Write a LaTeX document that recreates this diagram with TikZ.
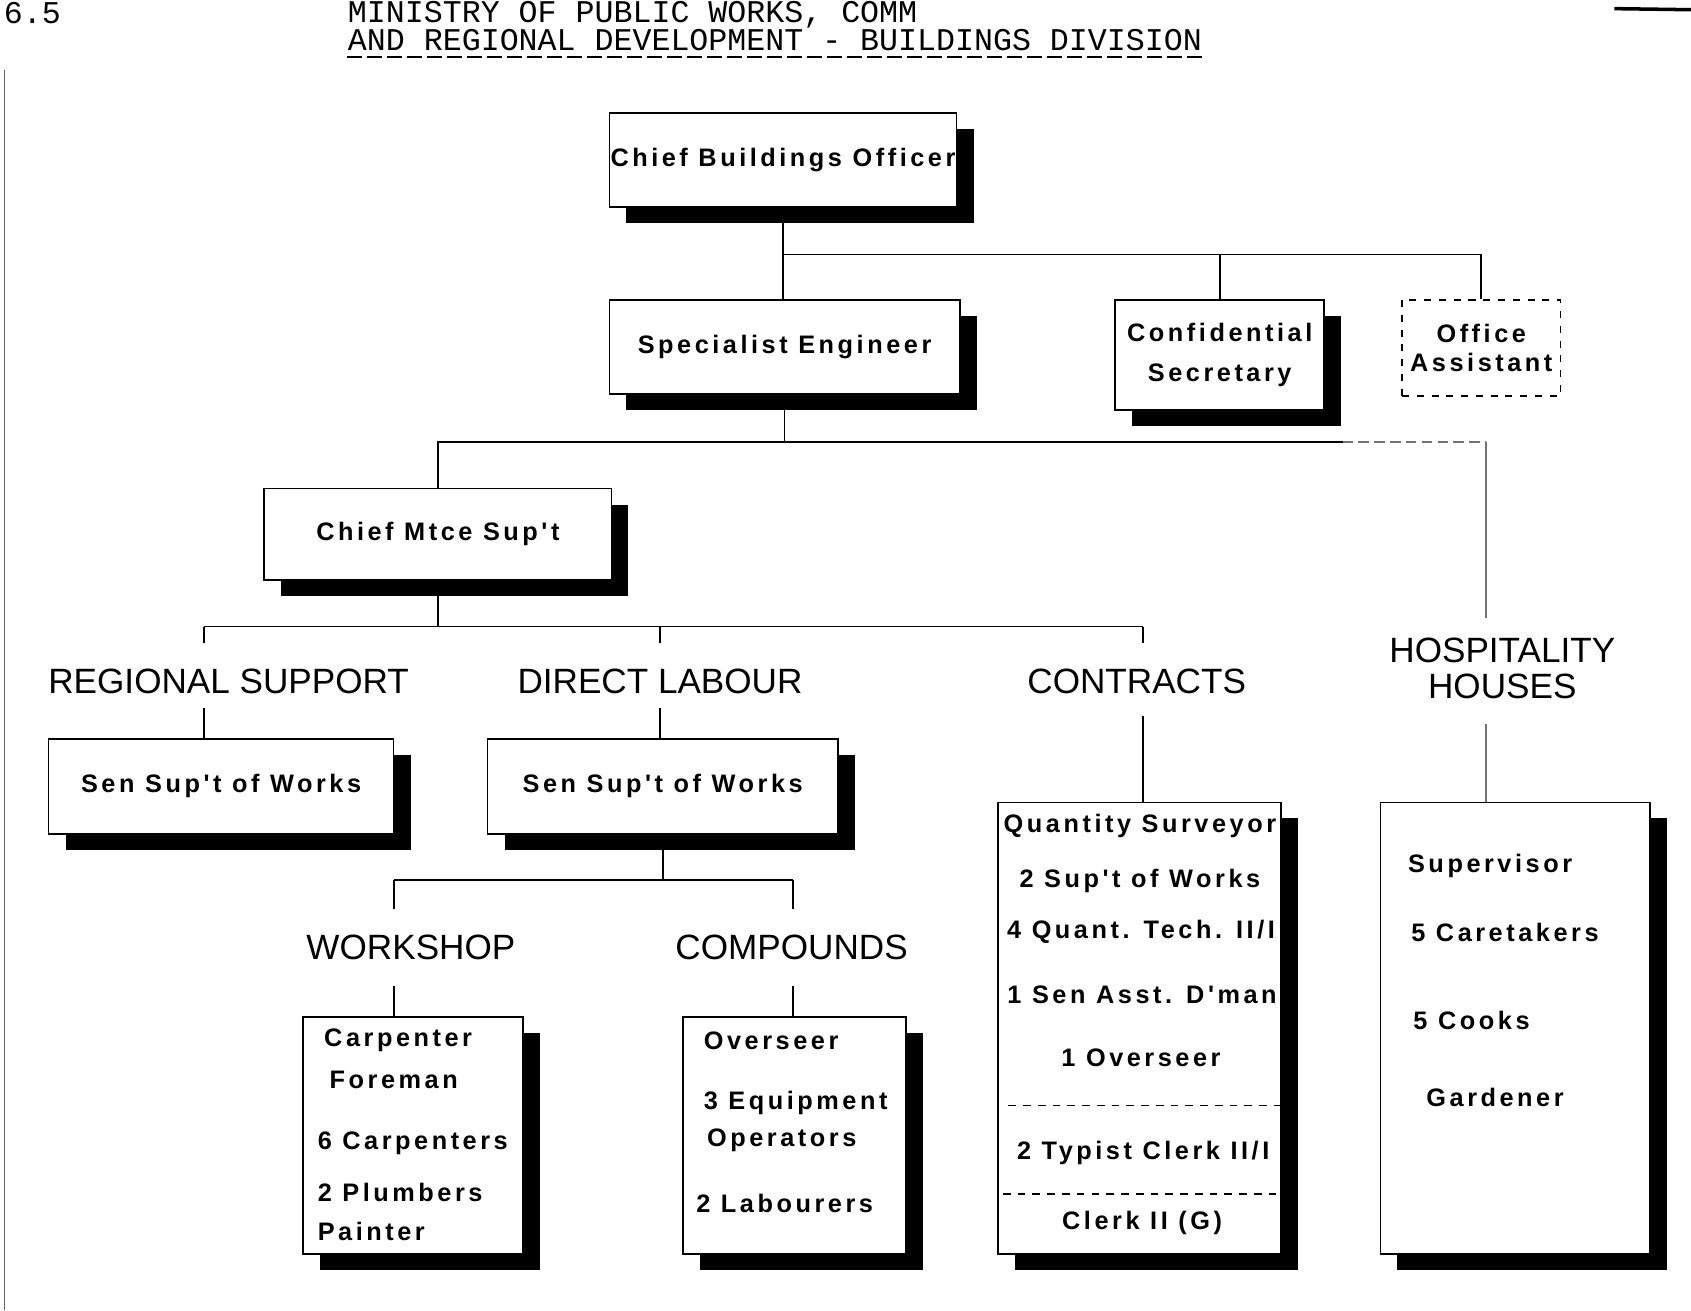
\documentclass[tikz,border=0pt]{standalone}
\usepackage{fontspec}
\usepackage{tikz}
\usetikzlibrary{positioning,shadows}
\newfontfamily\boxfont{Liberation Sans}[LetterSpace=14]
\newfontfamily\headfont{Liberation Sans}
\newfontfamily\typefont{Liberation Mono}

\begin{document}
\begin{tikzpicture}[
    x=0.010784cm, y=-0.010784cm,
    post/.style={draw, fill=white, inner sep=0pt, line width=0.5pt,
                 font=\boxfont\bfseries\fontsize{7.2}{8}\selectfont,
                 drop shadow={shadow xshift=0.17cm, shadow yshift=-0.16cm,
                              fill=black, opacity=1}},
    postdash/.style={draw, dash pattern=on 2pt off 2.2pt, fill=white, inner sep=0pt,
                     line width=0.5pt, align=center,
                     font=\boxfont\bfseries\fontsize{7.2}{8.3}\selectfont},
    item/.style={inner sep=0pt, font=\boxfont\bfseries\fontsize{7.2}{8}\selectfont},
    unit/.style={inner sep=0pt, font=\headfont\fontsize{10}{10.2}\selectfont},
    typehead/.style={inner sep=0pt, font=\typefont\fontsize{9}{11}\selectfont},
    link/.style={line width=0.5pt},
    faint/.style={line width=0.4pt, black!55},
    sepline/.style={line width=0.45pt, dash pattern=on 2.2pt off 2pt},
  ]
  \useasboundingbox (0,0) rectangle (1568,1215);

  % page header
  \node[typehead, anchor=base west] (num) at (3,22) {6.5};
  \node[typehead, anchor=base west] (hd1) at (322,21) {MINISTRY OF PUBLIC WORKS, COMM};
  \node[typehead, anchor=base west] (hd2) at (322,47) {AND REGIONAL DEVELOPMENT - BUILDINGS DIVISION};
  \draw[line width=0.6pt, dash pattern=on 0.15cm off 0.05cm]
    ([yshift=-0.06cm]hd2.base west) -- ([yshift=-0.06cm]hd2.base east);
  \draw[line width=1pt] (1497,8) -- (1568,9);
  \draw[black!60, line width=0.4pt] (4,65) -- (4,1215);

  % boxes
  \node[post, minimum width=3.472cm, minimum height=0.938cm] (cbo) at (726,148.5)
    {Chief Buildings Officer};
  \node[post, minimum width=3.505cm, minimum height=0.938cm] (spe) at (727.5,321.5)
    {Specialist Engineer};
  \node[post, align=center, font=\boxfont\bfseries\fontsize{7.2}{11.3}\selectfont,
        minimum width=2.092cm, minimum height=1.1cm] (csec) at (1131,329)
    {Confidential\\Secretary};
  \node[postdash, minimum width=1.585cm, minimum height=0.96cm] (oa) at (1373.5,322.5)
    {Office\\Assistant};
  \node[post, minimum width=3.472cm, minimum height=0.917cm] (cms) at (406,495.5)
    {Chief Mtce Sup't};
  \node[post, minimum width=3.451cm, minimum height=0.949cm] (rsw) at (205,729)
    {Sen Sup't of Works};
  \node[post, minimum width=3.505cm, minimum height=0.949cm] (dsw) at (614.5,729)
    {Sen Sup't of Works};
  \node[post, minimum width=2.2cm, minimum height=2.372cm] (wsb) at (383,1053) {};
  \node[post, minimum width=2.232cm, minimum height=2.372cm] (cpb) at (736.5,1053) {};
  \node[post, minimum width=2.836cm, minimum height=4.518cm] (qsb) at (1056.5,953.5) {};
  \node[post, minimum width=2.696cm, minimum height=4.518cm] (hsb) at (1405,953.5) {};

  % section headings
  \node[unit] (rsl) at (212,632) {REGIONAL SUPPORT};
  \node[unit] (dll) at (612,632) {DIRECT LABOUR};
  \node[unit] (ctl) at (1054,632) {CONTRACTS};
  \node[unit, align=center] (hhl) at (1393,620) {HOSPITALITY\\HOUSES};
  \node[unit] (wsl) at (381,878) {WORKSHOP};
  \node[unit] (cpl) at (734,878) {COMPOUNDS};

  % staff lists
  \foreach \x/\y/\t [count=\i] in {300/965/Carpenter, 305/1001/Foreman,
      294/1060/6 Carpenters, 294/1106/2 Plumbers, 294/1142/Painter}
    \node[item, anchor=west] (ws\i) at (\x,\y) {\t};
  \foreach \x/\y/\t [count=\i] in {652/965/Overseer, 652/1023/3 Equipment,
      655/1057/Operators, 645/1116/2 Labourers}
    \node[item, anchor=west] (cp\i) at (\x,\y) {\t};
  \foreach \x/\y/\t [count=\i] in {1305/803/Supervisor, 1308/865/5 Caretakers,
      1310/946/5 Cooks, 1322/1018/Gardener}
    \node[item, anchor=west] (hs\i) at (\x,\y) {\t};
  \node[item] (qs1) at (1057,766) {Quantity Surveyor};
  \node[item] (qs2) at (1057,817) {2 Sup't of Works};
  \node[item] (qs3) at (1058,864) {4 Quant. Tech. II/I};
  \node[item] (qs4) at (1059,922) {1 Sen Asst. D'man};
  \node[item] (qs5) at (1058,981) {1 Overseer};
  \node[item] (qs6) at (1060,1069) {2 Typist Clerk II/I};
  \node[item] (qs7) at (1059,1134) {Clerk II (G)};
  \coordinate (sep1) at (935,1025);
  \coordinate (sep2) at (930,1107);
  \draw[sepline] (sep1) -- (sep1 -| qsb.east);
  \draw[sepline] (sep2) -- (sep2 -| qsb.east);

  % top level lines
  \coordinate (bus1) at (0,236);
  \draw[link] (cbo.south) -- (cbo.south |- spe.north);
  \draw[link] (cbo.south |- bus1) -| (oa.north);
  \draw[link] (csec.north |- bus1) -- (csec.north);

  % engineer level
  \coordinate (bus2) at (0,410);
  \coordinate (fade) at (1245,410);
  \coordinate (hv) at (1378,410);
  \draw[link] (spe.south) -- (spe.south |- bus2);
  \draw[link] (cms.north) |- (fade);
  \draw[faint, dash pattern=on 3pt off 1.5pt] (fade) -- (hv);
  \draw[faint] (hv) -- ([yshift=0.2cm]hv |- hhl.north);
  \draw[faint] (hv |- hsb.north) -- ++(0,-72);

  % maintenance level
  \coordinate (t1) at (189,581);
  \coordinate (t2) at (612,581);
  \coordinate (t3) at (1060,581);
  \draw[link] (cms.south) -- (cms.south |- t1);
  \draw[link] (t1) -- (t3);
  \foreach \t in {t1,t2,t3}
    \draw[link] (\t) -- ++(0,15);
  \draw[link] (t1 |- rsw.north) -- ++(0,-28);
  \draw[link] (t2 |- dsw.north) -- ++(0,-28);
  \draw[link] (t3 |- qsb.north) -- ++(0,-79);

  % direct labour split
  \coordinate (t4) at (365,816);
  \coordinate (t5) at (735,816);
  \draw[link] (dsw.south) -- (dsw.south |- t4);
  \draw[link] (t4) -- (t5);
  \foreach \t in {t4,t5}
    \draw[link] (\t) -- ++(0,27);
  \draw[link] (t4 |- wsb.north) -- ++(0,-28);
  \draw[link] (t5 |- cpb.north) -- ++(0,-28);
\end{tikzpicture}
\end{document}
